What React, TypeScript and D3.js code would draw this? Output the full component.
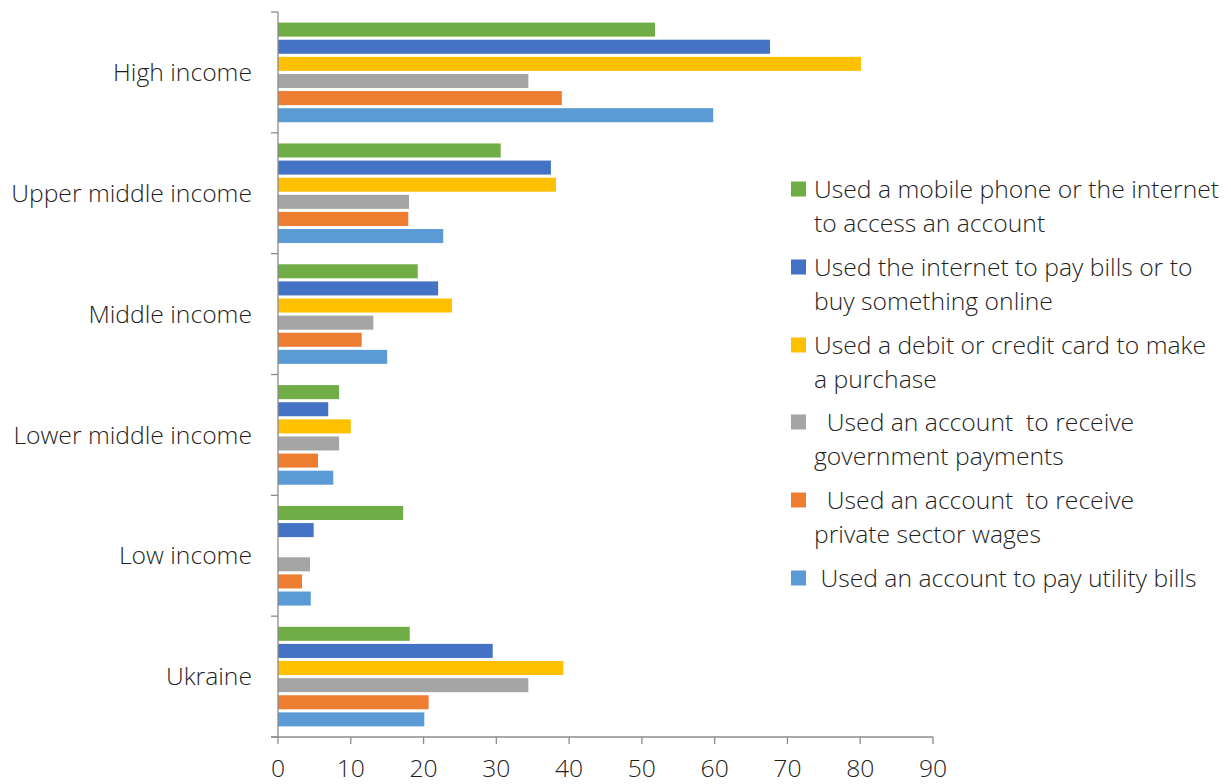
import * as d3 from "d3";

const groups = [
  "High income",
  "Upper middle income",
  "Middle income",
  "Lower middle income",
  "Low income",
  "Ukraine",
];

const seriesNames = [
  "Used a mobile phone or the internet to access an account",
  "Used the internet to pay bills or to buy something online",
  "Used a debit or credit card to make a purchase",
  "Used an account  to receive government payments",
  "Used an account  to receive private sector wages",
  "Used an account to pay utility bills",
];

const legendLines = [
  ["Used a mobile phone or the internet", "to access an account"],
  ["Used the internet to pay bills or to", "buy something online"],
  ["Used a debit or credit card to make", "a purchase"],
  ["\u00a0\u00a0Used an account\u00a0\u00a0to receive", "government payments"],
  ["\u00a0\u00a0Used an account\u00a0\u00a0to receive", "private sector wages"],
  ["\u00a0Used an account to pay utility bills"],
];

const colors = ["#70AD47", "#4472C4", "#FFC000", "#A5A5A5", "#ED7D31", "#5B9BD5"];

// values per series, in group order (null = no data)
const mobileAccess = [51.8, 30.6, 19.2, 8.4, 17.2, 18.1];
const internetPay = [67.6, 37.5, 22.0, 6.9, 4.9, 29.5];
const cardPurchase = [80.1, 38.2, 23.9, 10.0, null, 39.2];
const govPayments = [34.4, 18.0, 13.1, 8.4, 4.4, 34.4];
const privateWages = [39.0, 17.9, 11.5, 5.5, 3.3, 20.7];
const utilityBills = [59.8, 22.7, 15.0, 7.6, 4.5, 20.1];

const seriesValues = [mobileAccess, internetPay, cardPurchase, govPayments, privateWages, utilityBills];

const xTicks = [0, 10, 20, 30, 40, 50, 60, 70, 80, 90];

const FONT = "'Open Sans', 'Liberation Sans', sans-serif";

export default function App() {
  const width = 1231;
  const height = 784;
  const left = 278;
  const right = 933;
  const top = 12;
  const bottom = 737;

  const x = d3.scaleLinear().domain([0, 90]).range([left, right]);
  const y = d3.scaleBand<string>().domain(groups).range([top, bottom]).padding(0);
  const inner = d3
    .scaleBand<number>()
    .domain(d3.range(seriesNames.length))
    .range([0, y.bandwidth()])
    .paddingInner(0.18)
    .paddingOuter(0.62);

  const axisColor = "#8c8c8c";
  const textColor = "#1f1f1f";
  const fs = 24.7;

  return (
    <svg
      width={width}
      height={height}
      style={{ position: "absolute", left: 0, top: 0, background: "#fff" }}
      fontFamily={FONT}
    >
      {groups.map((g, gi) => (
        <g key={g} transform={`translate(0,${y(g)})`}>
          {seriesValues.map((vals, si) => {
            const v = vals[gi];
            if (v == null) return null;
            return (
              <rect
                key={si}
                x={x(0)}
                y={inner(si)}
                width={x(v) - x(0)}
                height={inner.bandwidth()}
                fill={colors[si]}
              />
            );
          })}
          <text
            x={252}
            y={y.bandwidth() / 2}
            dy="0.35em"
            textAnchor="end"
            fontSize={fs}
            fontWeight={300}
            fill={textColor}
          >
            {g}
          </text>
        </g>
      ))}

      {/* y axis */}
      <line x1={left} x2={left} y1={top} y2={bottom} stroke={axisColor} strokeWidth={1.3} />
      {[...groups.map((g) => y(g) as number), bottom].map((ty, i) => (
        <line key={i} x1={left - 7} x2={left} y1={ty} y2={ty} stroke={axisColor} strokeWidth={1.3} />
      ))}

      {/* x axis */}
      <line x1={left - 7} x2={right} y1={bottom} y2={bottom} stroke={axisColor} strokeWidth={1.3} />
      {xTicks.map((t) => (
        <g key={t}>
          <line x1={x(t)} x2={x(t)} y1={bottom} y2={bottom + 7} stroke={axisColor} strokeWidth={1.3} />
          <text
            x={x(t)}
            y={bottom + 40}
            textAnchor="middle"
            fontSize={fs}
            fontWeight={300}
            fill={textColor}
          >
            {t}
          </text>
        </g>
      ))}

      {/* legend */}
      {legendLines.map((lines, i) => {
        const cy = [189, 267, 345, 422, 500, 578][i];
        return (
          <g key={i}>
            <rect x={791} y={cy - 7.5} width={15} height={15} fill={colors[i]} />
            {lines.map((ln, li) => (
              <text
                key={li}
                x={814}
                y={cy + li * 34}
                dy="0.35em"
                fontSize={fs}
                fontWeight={300}
                fill={textColor}
                style={{ whiteSpace: "pre" }}
              >
                {ln}
              </text>
            ))}
          </g>
        );
      })}
    </svg>
  );
}
